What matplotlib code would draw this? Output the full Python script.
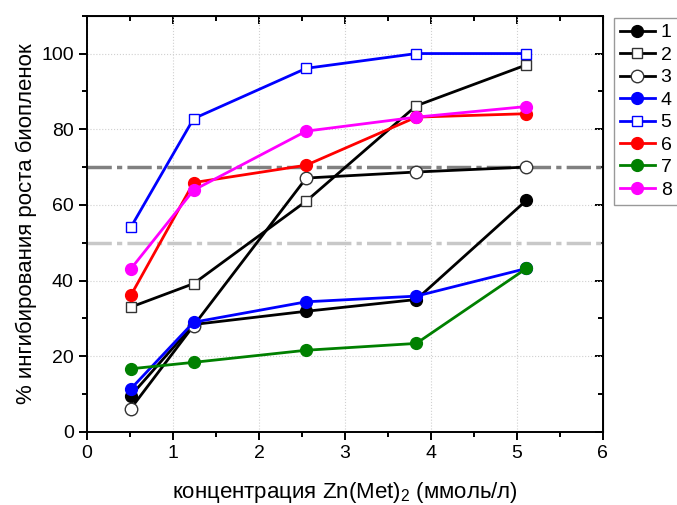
import matplotlib
matplotlib.use('Agg')
import matplotlib.pyplot as plt
from matplotlib.ticker import MultipleLocator

plt.rcParams['font.family'] = ['Liberation Sans', 'DejaVu Sans']
plt.rcParams['font.size'] = 14

conc = [0.51, 1.24, 2.55, 3.83, 5.11]
s1 = [9.6, 28.4, 31.9, 35.0, 61.2]
s2 = [33.0, 39.2, 61.0, 86.2, 97.0]
s3 = [6.2, 28.1, 67.1, 68.7, 70.0]
s4 = [11.4, 29.0, 34.4, 35.9, 43.2]
s5 = [54.1, 82.8, 96.1, 100.0, 100.0]
s6 = [36.1, 65.9, 70.5, 83.2, 84.1]
s7 = [16.7, 18.4, 21.6, 23.4, 43.2]
s8 = [43.1, 63.9, 79.5, 83.2, 86.0]
labels = ['1', '2', '3', '4', '5', '6', '7', '8']
level_hi = 70
level_lo = 50

# (data, colour, marker, filled)
series = [
    (s1, 'black', 'o', True),
    (s2, 'black', 's', False),
    (s3, 'black', 'o', False),
    (s4, '#0000ff', 'o', True),
    (s5, '#0000ff', 's', False),
    (s6, '#ff0000', 'o', True),
    (s7, '#008000', 'o', True),
    (s8, '#ff00ff', 'o', True),
]

fig = plt.figure(figsize=(6.77, 5.05), dpi=100)
ax = fig.add_axes([0.1285, 0.1446, 0.762, 0.8243])

ax.axhline(level_hi, color='#808080', lw=2.5, dashes=(7, 1.5, 1.5, 1.5), zorder=1)
ax.axhline(level_lo, color='#c8c8c8', lw=2.5, dashes=(7, 1.5, 1.5, 1.5), zorder=1)

hands = []
for (vals, c, m, filled), lab in zip(series, labels):
    if filled:
        ms, fc = 8.5, c
        ec = c
    else:
        ms = 9 if m == 'o' else 7
        fc = 'white'
        ec = '#333333' if c == 'black' else c
    h, = ax.plot(conc, vals, color=c, lw=2.0, marker=m, ms=ms,
                 markerfacecolor=fc, markeredgecolor=ec,
                 markeredgewidth=1.0, label=lab, zorder=3)
    hands.append(h)

ax.set_xlim(0, 6)
ax.set_ylim(0, 110)
ax.xaxis.set_major_locator(MultipleLocator(1))
ax.xaxis.set_minor_locator(MultipleLocator(0.5))
ax.yaxis.set_major_locator(MultipleLocator(20))
ax.yaxis.set_minor_locator(MultipleLocator(10))
ax.grid(True, which='major', color='#d0d0d0', ls=':', lw=0.8)
ax.set_axisbelow(True)

for sp in ax.spines.values():
    sp.set_linewidth(1.4)
ax.tick_params(which='both', direction='out', width=1.4, labelsize=14)
ax.tick_params(which='major', length=6)
ax.tick_params(which='minor', length=3.5)

# mirrored inward ticks on top and right
axt = ax.secondary_xaxis('top')
axt.xaxis.set_major_locator(MultipleLocator(1))
axt.xaxis.set_minor_locator(MultipleLocator(0.5))
axt.tick_params(which='both', direction='in', width=1.4, labeltop=False)
axt.tick_params(which='major', length=6)
axt.tick_params(which='minor', length=3.5)
axr = ax.secondary_yaxis('right')
axr.yaxis.set_major_locator(MultipleLocator(20))
axr.yaxis.set_minor_locator(MultipleLocator(10))
axr.tick_params(which='both', direction='in', width=1.4, labelright=False)
axr.tick_params(which='major', length=6)
axr.tick_params(which='minor', length=3.5)

ax.set_xlabel(r'концентрация Zn(Met)$_\mathregular{2}$ (ммоль/л)', fontsize=16, labelpad=13)
ax.set_ylabel('% ингибирования роста биопленок', fontsize=16, labelpad=3)

lgd = fig.legend(hands, labels, loc='upper left', bbox_to_anchor=(614 / 677, 1 - 18 / 505),
                 fontsize=14, frameon=True, fancybox=False, edgecolor='#808080',
                 handlelength=1.8, labelspacing=0.25, borderpad=0.3,
                 handletextpad=0.3, borderaxespad=0)
lgd.get_frame().set_linewidth(1.0)

plt.savefig('out.png', dpi=100)
